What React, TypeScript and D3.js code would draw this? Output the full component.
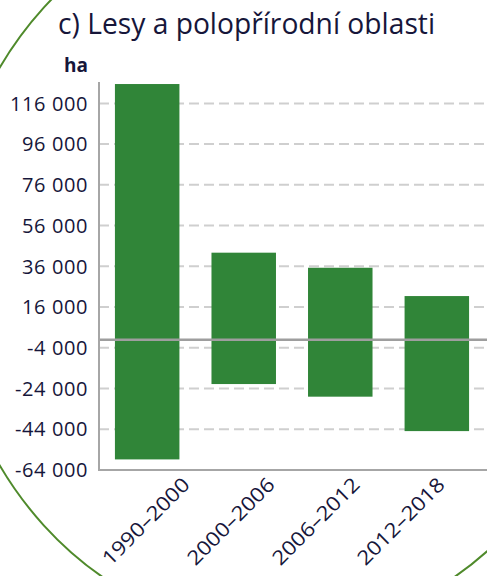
import React from "react";
import * as d3 from "d3";

const categories = ["1990–2000", "2000–2006", "2006–2012", "2012–2018"];
const lowValues = [-58800, -21800, -28000, -44900];
const highValues = [125500, 42700, 35300, 21400];
const tickValues = [116000, 96000, 76000, 56000, 36000, 16000, -4000, -24000, -44000, -64000];
const titleText = "c) Lesy a polopřírodní oblasti";
const unitText = "ha";

const W = 487;
const H = 576;
const fmt = (v: number) => {
  const s = Math.abs(v).toString().replace(/\B(?=(\d{3})+(?!\d))/g, " ");
  return (v < 0 ? "-" : "") + s;
};

export default function App() {
  const plotLeft = 99;
  const plotRight = 485;
  const plotTop = 82;
  const plotBottom = 470;

  const x = d3.scaleBand<string>().domain(categories).range([plotLeft, plotRight]).paddingInner(0.332).paddingOuter(0.165);
  const y = d3.scaleLinear().domain([-64000, 126500]).range([plotBottom, plotTop]);
  const labelX = d3.scalePoint<string>().domain(categories).range([191, 446]);

  const textColor = "#16163a";
  const font = "'Open Sans', sans-serif";

  return (
    <svg width={W} height={H} style={{ position: "absolute", left: 0, top: 0, display: "block" }}>
      <rect x={0} y={0} width={W} height={H} fill="#ffffff" />
      <ellipse cx={278.5} cy={266.5} rx={332} ry={366} fill="none" stroke="#4f8a2b" strokeWidth={2} />
      <text x={58} y={34} fontFamily={font} fontSize={29} fontWeight={500} fill={textColor} textLength={377} lengthAdjust="spacingAndGlyphs">
        {titleText}
      </text>
      <text x={88} y={72} textAnchor="end" fontFamily={font} fontWeight="bold" fontSize={19} fill={textColor}>
        {unitText}
      </text>
      {tickValues.map((t) => (
        <g key={t}>
          <line x1={plotLeft} x2={W} y1={y(t)} y2={y(t)} stroke="#cfcfcf" strokeWidth={2} strokeDasharray="10,5" />
          <text x={88} y={y(t)} dy="0.36em" textAnchor="end" fontFamily={font} fontSize={20} letterSpacing={0.6} fill={textColor}>
            {fmt(t)}
          </text>
        </g>
      ))}
      {categories.map((c, i) => (
        <rect
          key={c}
          x={x(c)}
          y={y(highValues[i])}
          width={x.bandwidth()}
          height={y(lowValues[i]) - y(highValues[i])}
          fill="#308538"
        />
      ))}
      <line x1={plotLeft} x2={W} y1={y(0)} y2={y(0)} stroke="#9e9e9e" strokeWidth={2.5} />
      <line x1={plotLeft} x2={plotLeft} y1={plotTop} y2={plotBottom} stroke="#a6a6a6" strokeWidth={2} />
      <line x1={plotLeft - 1} x2={W} y1={plotBottom} y2={plotBottom} stroke="#a6a6a6" strokeWidth={2} />
      {categories.map((c) => (
        <text
          key={c}
          transform={`translate(${labelX(c)},486) rotate(-45)`}
          textAnchor="end"
          fontFamily={font}
          fontSize={20}
          fill={textColor}
          textLength={114}
          lengthAdjust="spacingAndGlyphs"
        >
          {c}
        </text>
      ))}
    </svg>
  );
}
